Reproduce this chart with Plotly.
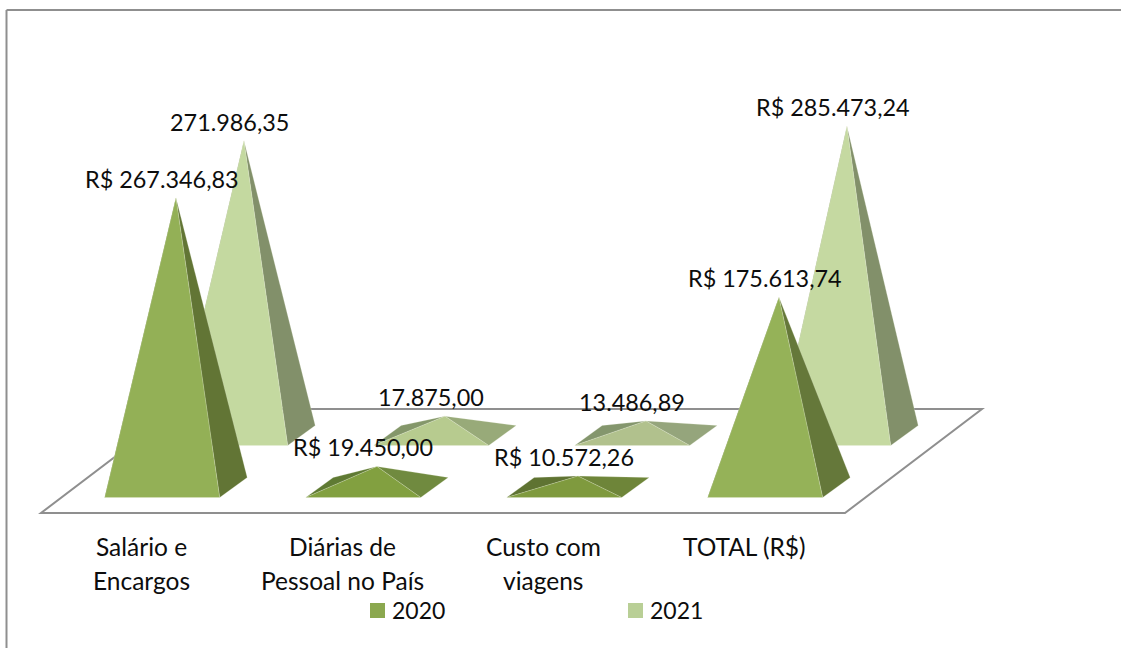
import plotly.graph_objects as go

# ---- data ----
categories = [["Salário e", "Encargos"], ["Diárias de", "Pessoal no País"], ["Custo com", "viagens"], ["TOTAL (R$)"]]
values_2020 = [267346.83, 19450.00, 10572.26, 175613.74]
values_2021 = [271986.35, 17875.00, 13486.89, 285473.24]
labels_2020 = ["R$ 267.346,83", "R$ 19.450,00", "R$ 10.572,26", "R$ 175.613,74"]
labels_2021 = ["271.986,35", "17.875,00", "13.486,89", "R$ 285.473,24"]
series_names = ["2020", "2021"]

# ---- face colours per pyramid: (front, right, left) ----
colors_2020 = [("#93b056", "#627535", "#5f7535"), ("#82a040", "#708a3f", "#5f7a33"),
               ("#7f9a3e", "#6e8539", "#5f7332"), ("#95b258", "#65783a", "#5f7535")]
colors_2021 = [("#c4d9a0", "#82906a", "#82906a"), ("#b7cb8f", "#98aa79", "#84976a"),
               ("#b1c18d", "#95a57c", "#84966d"), ("#c5d9a1", "#82906a", "#82906a")]
legend_colors = ["#8ba84f", "#b9cf96"]

# ---- projection (pixels on the 1121x648 canvas, y axis in value units) ----
W, H = 1121, 648
UNITS_PER_PX = 923.0
ZERO_PX = 487          # screen row of value 0 at the centre of the 2020 row
def py(row):           # screen row -> y-axis value
    return (ZERO_PX - row) * UNITS_PER_PX

STEP = 201.0
HALF_W = 57.5
DEPTH_X, DEPTH_Y = 27.5, 20.0
FRONT_CENTER_2020 = (162.2, 497.5)
FRONT_CENTER_2021 = (230.2, 445.5)
EDGE = "rgba(236,242,222,0.28)"

fig = go.Figure()

def pyramid(i, value, front_center, colors):
    cx = front_center[0] + i * STEP
    fy = front_center[1]
    by = fy - DEPTH_Y
    fl = (cx - HALF_W, py(fy))
    fr = (cx + HALF_W, py(fy))
    bl = (cx - HALF_W + DEPTH_X, py(by))
    br = (cx + HALF_W + DEPTH_X, py(by))
    apex = (cx + DEPTH_X / 2, py(fy - DEPTH_Y / 2) + value)
    faces = [((fl, bl, apex), colors[2]), ((fr, br, apex), colors[1]), ((fl, fr, apex), colors[0])]
    for pts, col in faces:
        xs = [p[0] for p in pts] + [pts[0][0]]
        ys = [p[1] for p in pts] + [pts[0][1]]
        fig.add_trace(go.Scatter(x=xs, y=ys, mode="lines", fill="toself", fillcolor=col,
                                 line=dict(color=EDGE, width=0.8), hoverinfo="skip", showlegend=False))
    return apex

annotations = []
FAMILY = "Lato, Carlito, Calibri, sans-serif"
LABEL_FONT = dict(family=FAMILY, size=23.4, color="#0d0d0d")
CAT_FONT = dict(family=FAMILY, size=24.5, color="#0d0d0d")
LEG_FONT = dict(family=FAMILY, size=23, color="#0d0d0d")

for series_vals, labels, center, cols in [(values_2021, labels_2021, FRONT_CENTER_2021, colors_2021),
                                          (values_2020, labels_2020, FRONT_CENTER_2020, colors_2020)]:
    for i, v in enumerate(series_vals):
        ax, ay = pyramid(i, v, center, cols[i])
        annotations.append(dict(x=ax, y=ay, text=labels[i], showarrow=False, xanchor="center", yanchor="middle",
                                xshift=-14, yshift=19, font=LABEL_FONT))

# category labels
for i, lines in enumerate(categories):
    for j, line in enumerate(lines):
        annotations.append(dict(x=141 + i * STEP, y=py(546 + j * 34), text=line, showarrow=False,
                                xanchor="center", yanchor="middle", font=CAT_FONT))

# legend entries
LEGEND_X = [377.5, 635.5]
for name, col, lx in zip(series_names, legend_colors, LEGEND_X):
    fig.add_trace(go.Scatter(x=[lx], y=[py(610.5)], mode="markers", name=name, showlegend=False, hoverinfo="name",
                             marker=dict(symbol="square", size=15, color=col, line=dict(width=0))))
    annotations.append(dict(x=lx + 12.5, y=py(610), text=name, showarrow=False, xanchor="left", yanchor="middle",
                            font=LEG_FONT))

# floor + frame
GRAY = "#8f8f8f"
floor = [(41, 513), (845, 513), (982, 409), (178, 409)]
path = "M " + " L ".join(f"{x},{py(y)}" for x, y in floor) + " Z"
shapes = [
    dict(type="path", path=path, xref="x", yref="y", layer="below", fillcolor="white", line=dict(color=GRAY, width=2)),
    dict(type="line", xref="paper", yref="paper", x0=6.5 / W, x1=1, y0=1 - 10 / H, y1=1 - 10 / H, line=dict(color=GRAY, width=2)),
    dict(type="line", xref="paper", yref="paper", x0=6.5 / W, x1=6.5 / W, y0=0, y1=1 - 10 / H, line=dict(color=GRAY, width=2)),
]

fig.update_layout(
    width=W, height=H, margin=dict(l=0, r=0, t=0, b=0),
    paper_bgcolor="white", plot_bgcolor="white",
    xaxis=dict(range=[0, W], visible=False, fixedrange=True),
    yaxis=dict(range=[py(H), py(0)], visible=False, fixedrange=True),
    shapes=shapes, annotations=annotations,
    showlegend=False,
)
fig.write_html("out.html", config=dict(displayModeBar=False),
               post_script="document.body.style.margin='0';document.body.style.overflow='hidden';")
